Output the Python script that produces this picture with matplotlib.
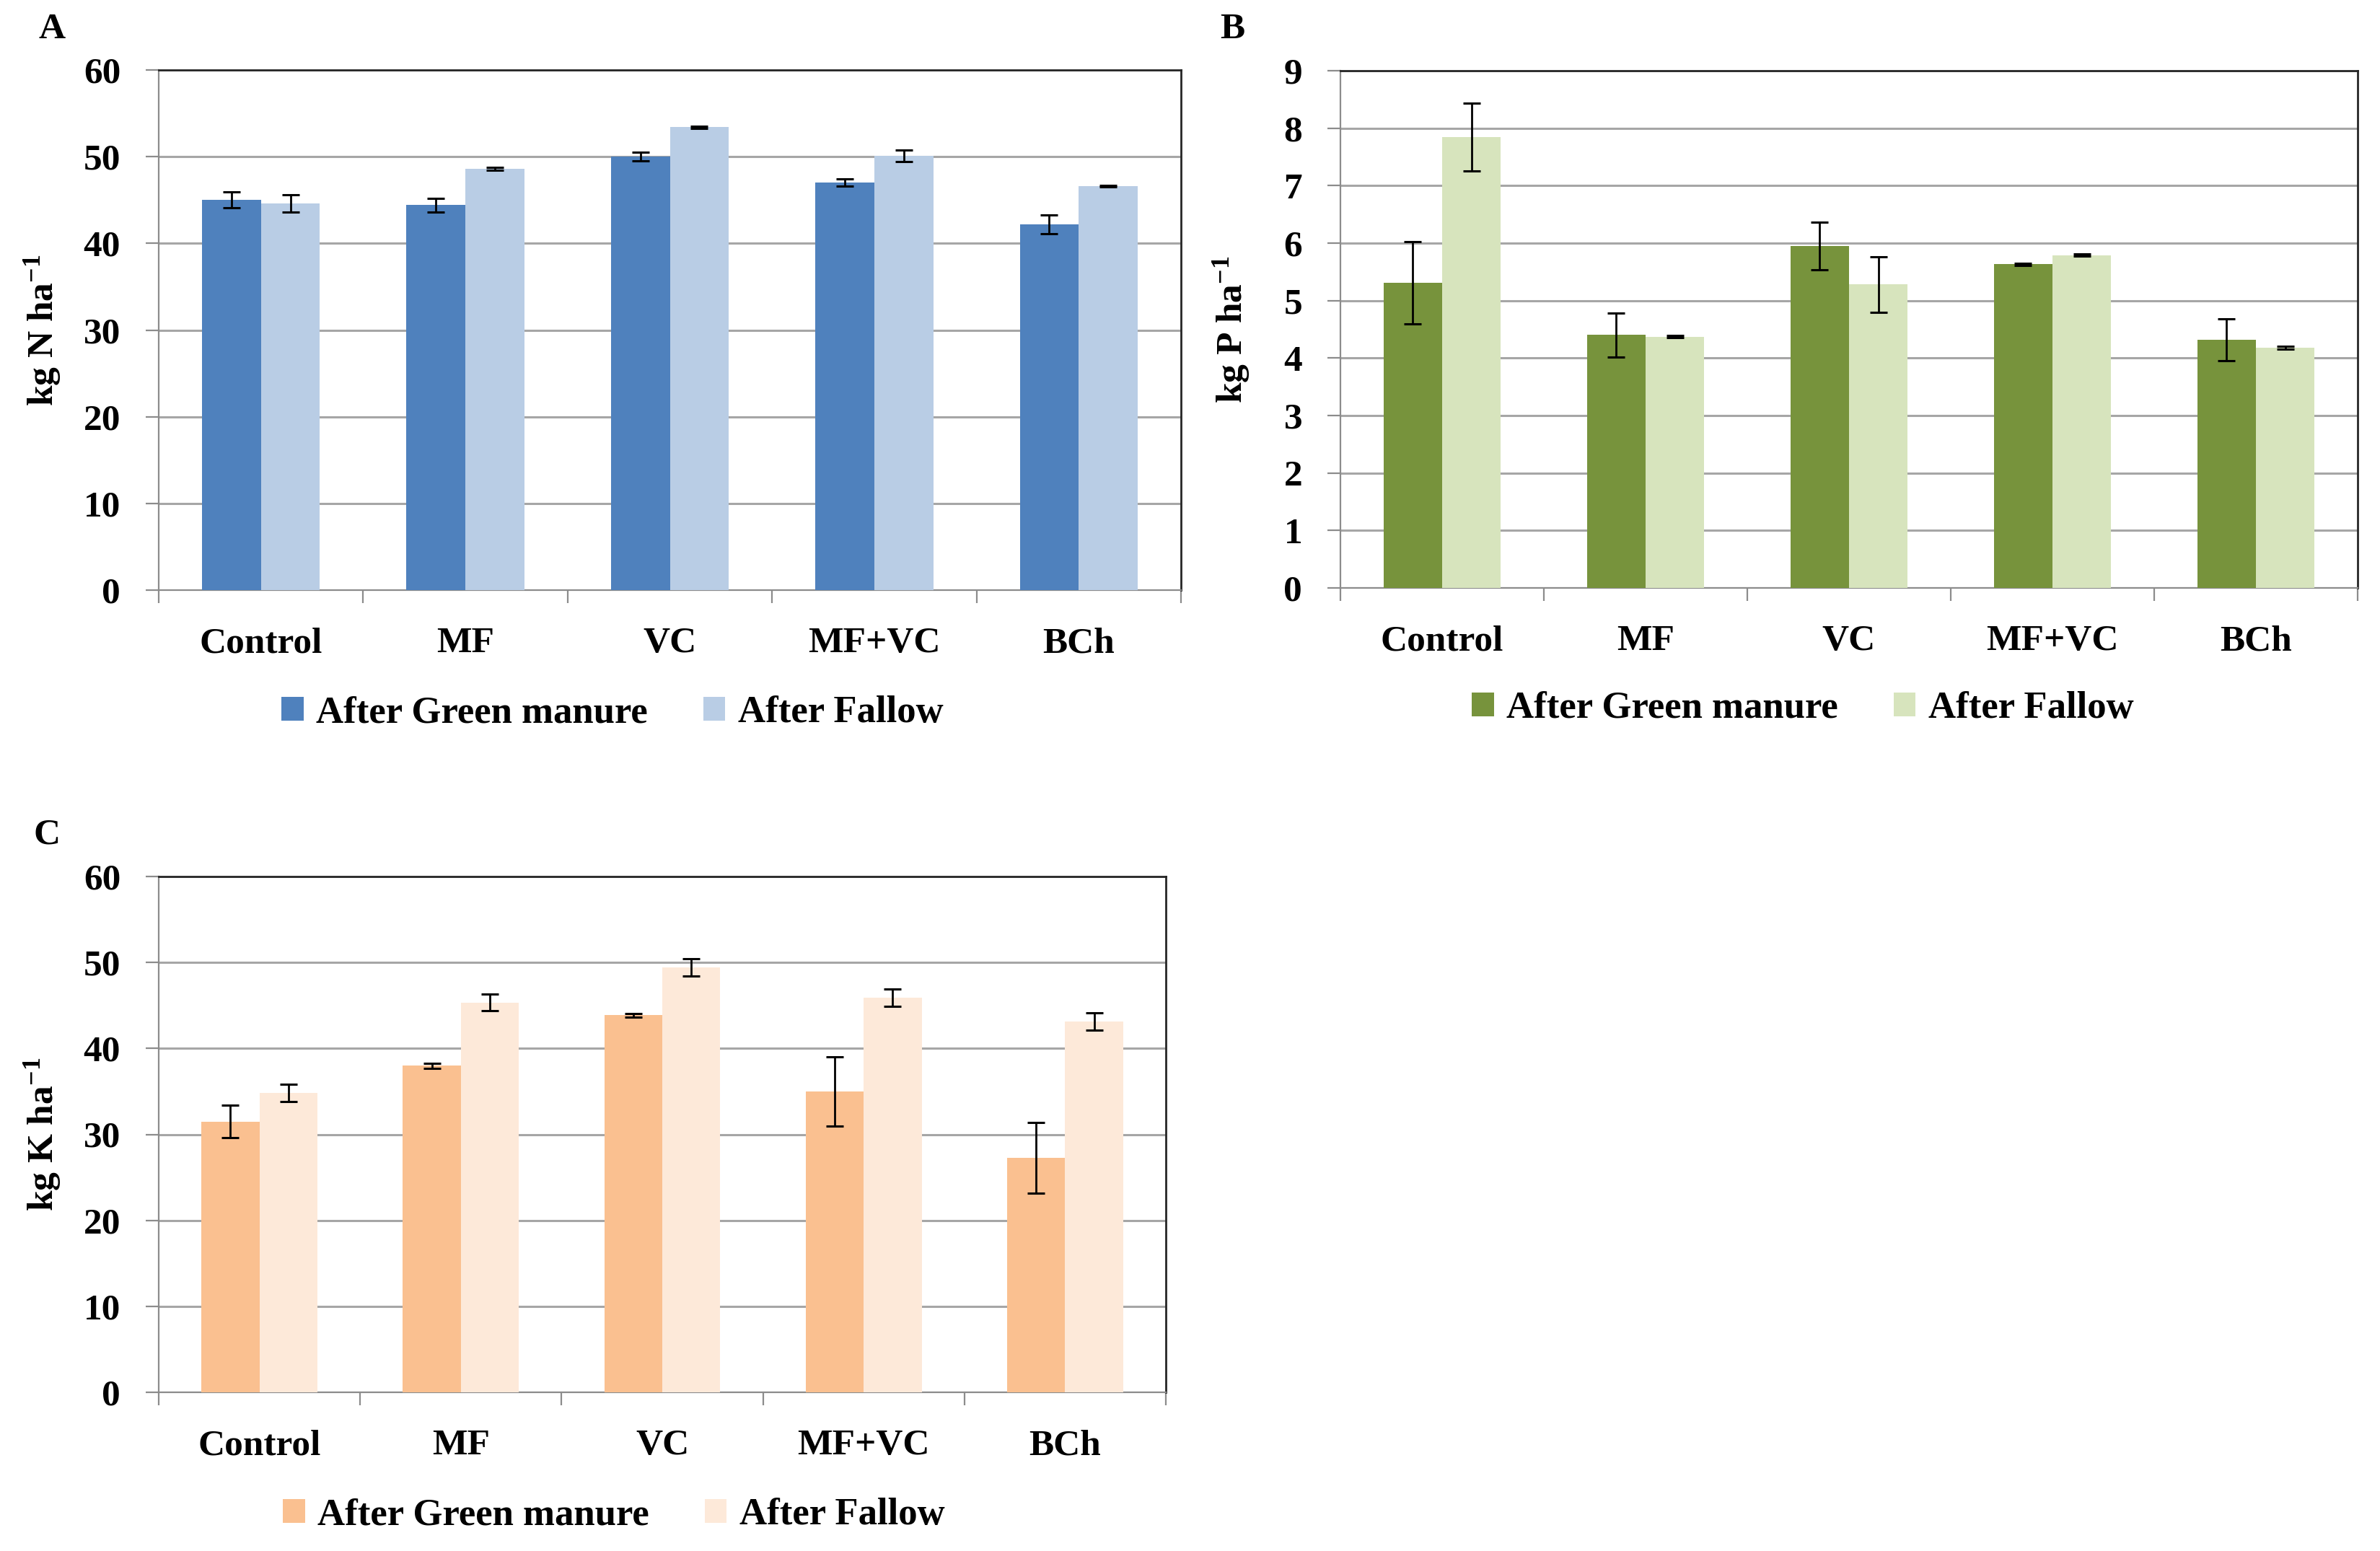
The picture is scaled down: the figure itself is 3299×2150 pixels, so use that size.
import matplotlib
matplotlib.use('Agg')
import matplotlib.pyplot as plt
from matplotlib.patches import Patch
import numpy as np

plt.rcParams['font.family'] = ['Liberation Serif', 'DejaVu Serif']
plt.rcParams['font.weight'] = 'bold'
plt.rcParams['mathtext.fontset'] = 'custom'
plt.rcParams['mathtext.rm'] = 'Liberation Serif:bold'
plt.rcParams['mathtext.bf'] = 'Liberation Serif:bold'
plt.rcParams['mathtext.it'] = 'Liberation Serif:italic:bold'

# ---------------- data ----------------
categories = ['Control', 'MF', 'VC', 'MF+VC', 'BCh']
series_names = ['After Green manure', 'After Fallow']

n_gm = [45.0, 44.4, 50.0, 47.0, 42.2]
n_gm_err = [0.9, 0.8, 0.5, 0.4, 1.1]
n_fallow = [44.6, 48.6, 53.4, 50.1, 46.6]
n_fallow_err = [1.0, 0.2, 0.15, 0.7, 0.1]

p_gm = [5.31, 4.40, 5.95, 5.63, 4.32]
p_gm_err = [0.71, 0.38, 0.41, 0.02, 0.36]
p_fallow = [7.85, 4.37, 5.28, 5.79, 4.18]
p_fallow_err = [0.59, 0.02, 0.48, 0.02, 0.02]

k_gm = [31.5, 38.0, 43.85, 35.0, 27.3]
k_gm_err = [1.9, 0.3, 0.2, 4.0, 4.1]
k_fallow = [34.8, 45.35, 49.4, 45.9, 43.15]
k_fallow_err = [1.0, 1.0, 1.0, 1.0, 1.0]

W, H = 3299, 2150
fig = plt.figure(figsize=(W / 100, H / 100), dpi=100)

FS = 37
GRID = '#A6A6A6'
AXC = '#8C8C8C'


def px_axes(l, t, r, b):
    return fig.add_axes([l / W, 1 - b / H, (r - l) / W, (b - t) / H])


panels = [
    dict(box=(220, 97, 1637, 818), ymax=60, step=10,
         gm=n_gm, gme=n_gm_err, fa=n_fallow, fae=n_fallow_err,
         colors=('#4F81BD', '#B9CDE5'), ylabel='kg N ha$^{-1}$',
         ylab_x=59, letter='A', letter_xy=(72, 41), leg_xy=(390, 988)),
    dict(box=(1858, 98, 3268, 815), ymax=9, step=1,
         gm=p_gm, gme=p_gm_err, fa=p_fallow, fae=p_fallow_err,
         colors=('#77933C', '#D7E4BD'), ylabel='kg P ha$^{-1}$',
         ylab_x=1707, letter='B', letter_xy=(1708, 41), leg_xy=(2040, 982)),
    dict(box=(220, 1215, 1616, 1930), ymax=60, step=10,
         gm=k_gm, gme=k_gm_err, fa=k_fallow, fae=k_fallow_err,
         colors=('#FAC090', '#FDE9D9'), ylabel='kg K ha$^{-1}$',
         ylab_x=59, letter='C', letter_xy=(65, 1157), leg_xy=(392, 2100)),
]

x = np.arange(len(categories))
w = 0.288

for p in panels:
    l, t, r, b = p['box']
    ax = px_axes(l, t, r, b)
    ekw = dict(ecolor='black', elinewidth=2.0, capsize=8.3, capthick=2.2, zorder=4)
    ax.bar(x - w / 2, p['gm'], w, color=p['colors'][0], yerr=p['gme'],
           error_kw=ekw, zorder=3)
    ax.bar(x + w / 2, p['fa'], w, color=p['colors'][1], yerr=p['fae'],
           error_kw=ekw, zorder=3)

    ax.set_xlim(-0.5, len(categories) - 0.5)
    ax.set_ylim(0, p['ymax'])
    ax.set_yticks(np.arange(0, p['ymax'] + p['step'] / 2, p['step']))
    ax.yaxis.grid(True, color=GRID, lw=2.2)
    ax.set_axisbelow(True)

    ax.set_xticks(x)
    ax.set_xticklabels(categories)
    ax.set_xticks(np.arange(-0.5, len(categories), 1), minor=True)
    ax.tick_params(axis='x', which='major', length=0, pad=37, labelsize=FS)
    ax.tick_params(axis='x', which='minor', length=13, width=1.6,
                   color=AXC, direction='out')
    ax.tick_params(axis='y', length=13, width=1.6, color=AXC,
                   pad=25, labelsize=FS)

    for s in ('left', 'bottom'):
        ax.spines[s].set_color(AXC)
        ax.spines[s].set_linewidth(1.6)
    for s in ('top', 'right'):
        ax.spines[s].set_color('#262626')
        ax.spines[s].set_linewidth(2.0)

    yc = (t + b) / 2
    fig.text(p['ylab_x'] / W, 1 - yc / H, p['ylabel'], rotation=90,
             ha='center', va='center', fontsize=FS, fontweight='bold')
    lx, ly = p['letter_xy']
    fig.text(lx / W, 1 - ly / H, p['letter'], ha='center', va='center',
             fontsize=FS, fontweight='bold')

    handles = [Patch(facecolor=p['colors'][0], edgecolor='none'),
               Patch(facecolor=p['colors'][1], edgecolor='none')]
    gx, gy = p['leg_xy']
    fig.legend(handles, series_names, loc='center left',
               bbox_to_anchor=(gx / W, 1 - gy / H), ncol=2, frameon=False,
               fontsize=38, handlelength=0.58, handleheight=0.58,
               handletextpad=0.33, columnspacing=1.46, borderpad=0,
               borderaxespad=0)

fig.savefig('out.png', dpi=100, facecolor='white')
